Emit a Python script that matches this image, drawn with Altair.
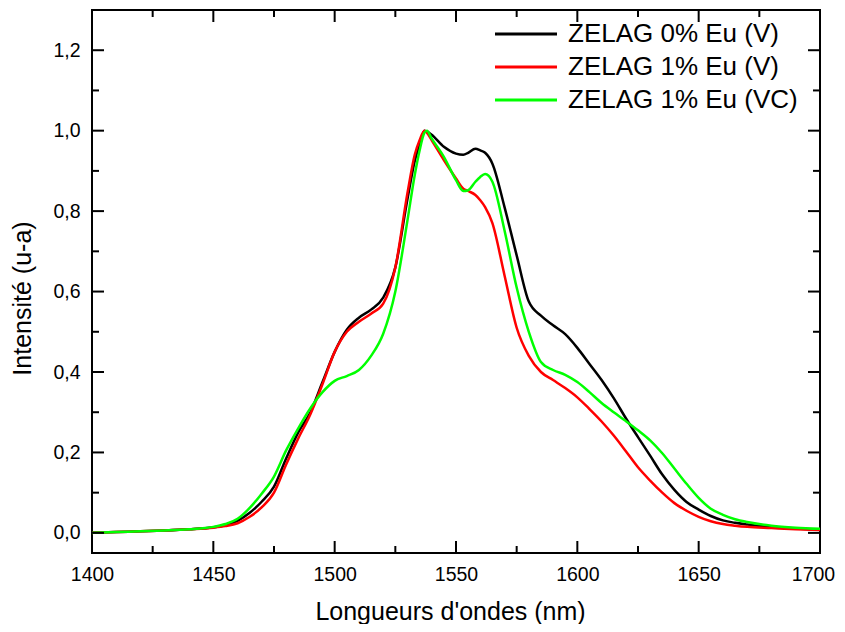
import altair as alt
import pandas as pd

wavelength = [1400, 1410, 1420, 1430, 1440, 1450, 1455, 1460, 1465, 1470, 1475, 1480, 1485, 1490,
              1495, 1500, 1505, 1510, 1515, 1520, 1525, 1530, 1533, 1535, 1537, 1538, 1540, 1545,
              1550, 1553, 1555, 1558, 1560, 1562, 1565, 1570, 1575, 1580, 1585, 1590, 1595, 1600,
              1605, 1610, 1615, 1620, 1625, 1630, 1635, 1640, 1645, 1650, 1655, 1660, 1665, 1670,
              1680, 1690, 1700]

zelag0_v = [0.000, 0.002, 0.004, 0.006, 0.009, 0.014, 0.019, 0.030, 0.050, 0.078, 0.115, 0.185, 0.250, 0.300,
            0.375, 0.450, 0.505, 0.535, 0.555, 0.585, 0.660, 0.830, 0.925, 0.965, 1.000, 0.998, 0.990, 0.960,
            0.943, 0.940, 0.945, 0.955, 0.951, 0.945, 0.918, 0.810, 0.690, 0.575, 0.540, 0.516, 0.494, 0.460,
            0.420, 0.380, 0.335, 0.285, 0.238, 0.192, 0.145, 0.107, 0.077, 0.058, 0.042, 0.031, 0.025, 0.021,
            0.015, 0.011, 0.008]

zelag1_v = [0.000, 0.002, 0.004, 0.006, 0.009, 0.013, 0.017, 0.024, 0.040, 0.064, 0.100, 0.170, 0.235, 0.295,
            0.370, 0.450, 0.500, 0.525, 0.545, 0.570, 0.660, 0.845, 0.940, 0.976, 1.000, 0.995, 0.976, 0.927,
            0.881, 0.856, 0.850, 0.840, 0.827, 0.810, 0.770, 0.640, 0.510, 0.440, 0.400, 0.380, 0.360, 0.337,
            0.308, 0.277, 0.242, 0.203, 0.163, 0.130, 0.100, 0.074, 0.055, 0.040, 0.029, 0.022, 0.018, 0.015,
            0.012, 0.009, 0.007]

zelag1_vc = [0.000, 0.002, 0.004, 0.006, 0.009, 0.015, 0.022, 0.035, 0.062, 0.098, 0.140, 0.205, 0.260, 0.310,
             0.350, 0.378, 0.390, 0.405, 0.440, 0.495, 0.600, 0.777, 0.890, 0.951, 0.995, 1.000, 0.980, 0.935,
             0.877, 0.850, 0.852, 0.873, 0.885, 0.892, 0.873, 0.752, 0.610, 0.500, 0.425, 0.405, 0.393, 0.375,
             0.350, 0.323, 0.300, 0.278, 0.255, 0.230, 0.198, 0.160, 0.122, 0.087, 0.060, 0.045, 0.034, 0.027,
             0.018, 0.013, 0.010]

series_names = ["ZELAG 0% Eu (V)", "ZELAG 1% Eu (V)", "ZELAG 1% Eu (VC)"]
series_colors = ["#000000", "#ff0000", "#00ff00"]

x_major = [1400, 1450, 1500, 1550, 1600, 1650, 1700]
x_minor = [1425, 1475, 1525, 1575, 1625, 1675]
y_major = [0.0, 0.2, 0.4, 0.6, 0.8, 1.0, 1.2]
y_minor = [0.1, 0.3, 0.5, 0.7, 0.9, 1.1]

W, H = 728, 543
FONT = "Liberation Sans"

rows = []
for name, vals in zip(series_names, [zelag0_v, zelag1_v, zelag1_vc]):
    for w, v in zip(wavelength, vals):
        rows.append({"w": w, "v": v, "serie": name})
df = pd.DataFrame(rows)

xscale = alt.Scale(domain=[1400, 1700], nice=False, zero=False)
yscale = alt.Scale(domain=[-0.05, 1.3], nice=False, zero=False)

xaxis = alt.Axis(values=x_major, format="d", title="Longueurs d'ondes (nm)",
                 grid=False, domain=False, ticks=False, labelFontSize=19.5,
                 labelPadding=12, labelFont=FONT, labelColor="black", labelFlush=False,
                 labelOffset={"condition": {"test": "datum.value == 1700", "value": -7},
                              "value": 0},
                 titleFont=FONT, titleFontSize=25, titleFontWeight="normal",
                 titleColor="black", titleX=358, titleY=66,
                 titleBaseline="alphabetic")
yaxis = alt.Axis(values=y_major, title="Intensité (u-a)",
                 labelExpr="replace(format(datum.value, '.1f'), '.', ',')",
                 grid=False, domain=False, ticks=False, labelFontSize=19.5,
                 labelPadding=12, labelFont=FONT, labelColor="black", labelFlush=False,
                 titleFont=FONT, titleFontSize=25, titleFontWeight="normal",
                 titleColor="black", titleX=-62, titleY=288,
                 titleBaseline="alphabetic", titleAngle=-90)

lines = alt.Chart(df).mark_line(strokeWidth=2.5, interpolate="monotone").encode(
    x=alt.X("w:Q", scale=xscale, axis=xaxis),
    y=alt.Y("v:Q", scale=yscale, axis=yaxis),
    color=alt.Color("serie:N",
                    scale=alt.Scale(domain=series_names, range=series_colors),
                    legend=alt.Legend(title=None, orient="none", legendX=420, legendY=10,
                                      symbolType="M-2.5,0H2.5", symbolSize=615,
                                      symbolStrokeWidth=3, labelFontSize=26,
                                      labelFont=FONT, labelColor="black",
                                      labelOffset=28, rowPadding=6, labelLimit=400)),
)


def xticks(vals, length, top):
    d = pd.DataFrame({"w": vals})
    if top:
        y0, y1 = 0, length
    else:
        y0, y1 = H, H - length
    return alt.Chart(d).mark_rule(color="black", strokeWidth=2).encode(
        x=alt.X("w:Q", scale=xscale, axis=xaxis),
        y=alt.value(y0), y2=alt.value(y1))


def yticks(vals, length, right):
    d = pd.DataFrame({"v": vals})
    if right:
        x0, x1 = W, W - length
    else:
        x0, x1 = 0, length
    return alt.Chart(d).mark_rule(color="black", strokeWidth=2).encode(
        y=alt.Y("v:Q", scale=yscale, axis=yaxis),
        x=alt.value(x0), x2=alt.value(x1))


chart = alt.layer(
    lines,
    xticks(x_major, 12, False), xticks(x_minor, 7, False),
    xticks(x_major, 12, True), xticks(x_minor, 7, True),
    yticks(y_major, 12, False), yticks(y_minor, 7, False),
    yticks(y_major, 12, True), yticks(y_minor, 7, True),
).properties(
    width=W, height=H,
    autosize=alt.AutoSizeParams(type="none"),
    padding={"left": 84, "top": 2, "right": 17, "bottom": 71},
).configure(
    background="white",
    view=alt.ViewConfig(stroke="black", strokeWidth=2),
)

chart.save("out.html", embed_options={"renderer": "svg", "actions": False})
